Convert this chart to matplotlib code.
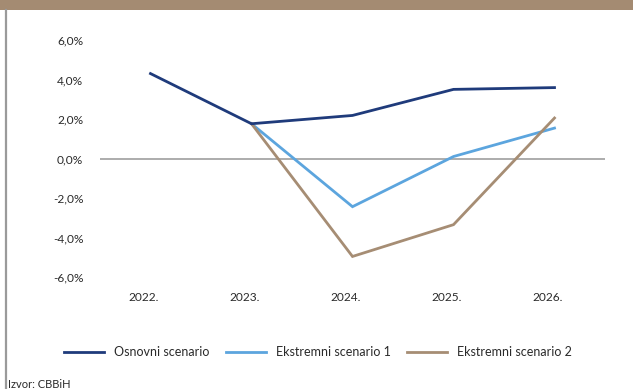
import matplotlib
matplotlib.use("Agg")
import matplotlib.pyplot as plt
import matplotlib.transforms as mtransforms
from matplotlib.patches import Rectangle
from matplotlib.lines import Line2D

years = ["2022.", "2023.", "2024.", "2025.", "2026."]
osnovni = [4.30, 1.76, 2.18, 3.50, 3.59]
ekstremni1 = [None, 1.76, -2.44, 0.10, 1.54]
ekstremni2 = [None, 1.76, -4.96, -3.35, 2.05]
series_names = ["Osnovni scenario", "Ekstremni scenario 1", "Ekstremni scenario 2"]
yticks = [-6, -4, -2, 0, 2, 4, 6]
ytick_labels = ["-6,0%", "-4,0%", "-2,0%", "0,0%", "2,0%", "4,0%", "6,0%"]
source = "Izvor: CBBiH"

colors = ["#1F3B7B", "#5CA5DE", "#A68D74"]

plt.rcParams['font.family'] = ['Lato', 'DejaVu Sans']
W, H = 633, 389
fig = plt.figure(figsize=(W/100, H/100), dpi=100)

# top band and left border
fig.patches.append(Rectangle((0, 1 - 10/H), 1, 10/H, transform=fig.transFigure,
                             facecolor="#A48B72", edgecolor="none", zorder=0))
fig.add_artist(Line2D([6/W, 6/W], [0, 1 - 10/H], transform=fig.transFigure,
                      color="#9A9A9A", lw=1.6))

ax = fig.add_axes([100/W, 1 - 277/H, 505/W, (277 - 40)/H])
x = list(range(len(years)))
ax.axhline(0, color="#A6A6A6", lw=1.3, zorder=1)
for vals, c, name in zip([osnovni, ekstremni1, ekstremni2], colors, series_names):
    xs = [xi for xi, v in zip(x, vals) if v is not None]
    ys = [v for v in vals if v is not None]
    ax.plot(xs, ys, color=c, lw=2.0, label=name, zorder=3 if c == colors[0] else 2,
            solid_joinstyle="miter")

ax.set_xlim(-0.5, len(years) - 0.5)
ax.set_ylim(-6, 6)
ax.set_yticks(yticks)
ax.set_yticklabels(ytick_labels)
ax.set_xticks(x)
ax.set_xticklabels(years)
ax.tick_params(axis="both", length=0, labelsize=8.6, colors="#2A2A2A")
ax.tick_params(axis="y", pad=12)
ax.tick_params(axis="x", pad=11)
for s in ax.spines.values():
    s.set_visible(False)
offset = mtransforms.ScaledTranslation(-7/100, 0, fig.dpi_scale_trans)
for lab in ax.get_xticklabels():
    lab.set_transform(lab.get_transform() + offset)

leg = fig.legend(loc="center", bbox_to_anchor=(318/W, 1 - 352/H), ncol=3, frameon=False,
                 fontsize=9, handlelength=3.2, handletextpad=0.8, columnspacing=1.3)
for t in leg.get_texts():
    t.set_color("#2A2A2A")

fig.text(8/W, 1 - 379/H, source, fontsize=8, va="top", ha="left", color="#2A2A2A")

fig.savefig("out.png", dpi=100)
